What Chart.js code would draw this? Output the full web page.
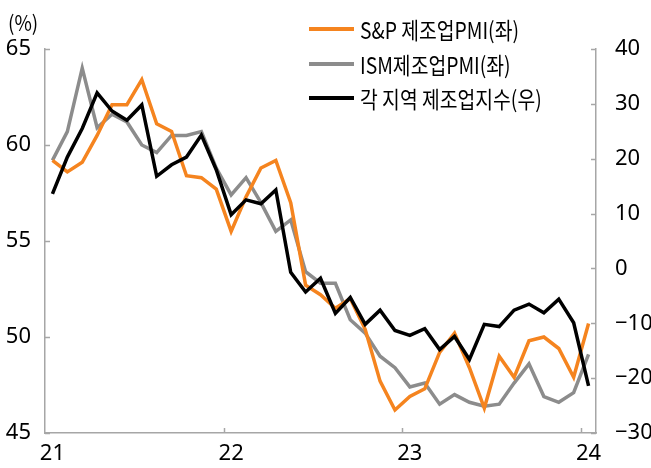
<!DOCTYPE html>
<html>
<head>
<meta charset="utf-8">
<script src="https://cdn.jsdelivr.net/npm/chart.js@4.4.1/dist/chart.umd.min.js"></script>
<style>
  html, body { margin: 0; padding: 0; background: #fff; }
  #wrap { position: relative; width: 651px; height: 468px; font-family: "Noto Sans CJK KR", "Noto Sans", sans-serif; }
  #unit { position: absolute; left: 8px; top: 7px; font-size: 21px; transform: scaleX(0.9); transform-origin: left center; }
  #legend { position: absolute; left: 309px; top: 12px; font-size: 23px; white-space: nowrap; }
  .row { display: flex; align-items: center; height: 34.5px; }
  .sw { width: 45px; height: 4px; margin-right: 6px; flex: none; }
  .tx { display: inline-block; transform: scaleX(0.84); transform-origin: left center; }
</style>
</head>
<body>
<div id="wrap">
  <canvas id="chart" width="651" height="468"></canvas>
  <div id="unit">(%)</div>
  <div id="legend"></div>
</div>
<script>
// 월별 (2021.01 ~ 2024.01)
const months = [
  '2021-01','2021-02','2021-03','2021-04','2021-05','2021-06','2021-07','2021-08','2021-09','2021-10','2021-11','2021-12',
  '2022-01','2022-02','2022-03','2022-04','2022-05','2022-06','2022-07','2022-08','2022-09','2022-10','2022-11','2022-12',
  '2023-01','2023-02','2023-03','2023-04','2023-05','2023-06','2023-07','2023-08','2023-09','2023-10','2023-11','2023-12',
  '2024-01'
];

const seriesNames = ['S&P 제조업PMI(좌)', 'ISM제조업PMI(좌)', '각 지역 제조업지수(우)'];
const seriesColors = ['#f5841f', '#8c8c8c', '#000000'];

// S&P 제조업 PMI (좌)
const spPmi = [
  59.2, 58.6, 59.1, 60.5, 62.1, 62.1, 63.4, 61.1, 60.7, 58.4, 58.3, 57.7,
  55.5, 57.3, 58.8, 59.2, 57.0, 52.7, 52.2, 51.5, 52.0, 50.4, 47.7, 46.2,
  46.9, 47.3, 49.2, 50.2, 48.4, 46.3, 49.0, 47.9, 49.8, 50.0, 49.4, 47.9,
  50.7
];

// ISM 제조업 PMI (좌)
const ismPmi = [
  59.2, 60.7, 64.0, 60.9, 61.6, 61.2, 60.0, 59.6, 60.5, 60.5, 60.7, 58.8,
  57.4, 58.3, 57.0, 55.5, 56.1, 53.4, 52.8, 52.8, 50.9, 50.2, 49.0, 48.4,
  47.4, 47.6, 46.5, 47.0, 46.6, 46.4, 46.5, 47.6, 48.6, 46.9, 46.6, 47.1,
  49.1
];

// 각 지역 연은 제조업지수 평균 (우)
const regionIdx = [
  13.6, 20.3, 25.5, 32.0, 28.7, 27.0, 29.8, 16.8, 18.9, 20.3, 24.3, 18.0,
  9.8, 12.5, 11.8, 14.3, -0.7, -4.3, -1.8, -8.2, -5.3, -10.2, -7.6, -11.3,
  -12.2, -11.0, -14.8, -12.4, -16.6, -10.2, -10.6, -7.6, -6.5, -8.1, -5.6, -9.9,
  -21.4
];

const leftTicks = { min: 45, max: 65, step: 5 };
const rightTicks = { min: -30, max: 40, step: 10 };

const axisColor = '#a6a6a6';
const fontFamily = '"Noto Sans", "Noto Sans CJK KR", sans-serif';

// 축 안쪽으로 들어가는 눈금
const innerTicks = {
  id: 'innerTicks',
  afterDraw(chart) {
    const { ctx, chartArea: a, scales } = chart;
    const len = 5;
    ctx.save();
    ctx.strokeStyle = axisColor;
    ctx.lineWidth = 1.5;
    ctx.beginPath();
    scales.y.ticks.forEach(t => {
      const py = Math.round(scales.y.getPixelForValue(t.value)) + 0.5;
      ctx.moveTo(a.left, py); ctx.lineTo(a.left + len, py);
    });
    scales.y1.ticks.forEach(t => {
      const py = Math.round(scales.y1.getPixelForValue(t.value)) + 0.5;
      ctx.moveTo(a.right, py); ctx.lineTo(a.right - len, py);
    });
    months.forEach((m, i) => {
      if (i > 0 && m.endsWith('-01')) {
        const px = Math.round(scales.x.getPixelForValue(i - 0.5)) + 0.5;
        ctx.moveTo(px, a.bottom); ctx.lineTo(px, a.bottom - len);
      }
    });
    ctx.stroke();
    ctx.restore();
  }
};

const data = [spPmi, ismPmi, regionIdx];
const axisIds = ['y', 'y', 'y1'];
const drawOrder = [1, 2, 0];

new Chart(document.getElementById('chart'), {
  type: 'line',
  data: {
    labels: months,
    datasets: data.map((d, i) => ({
      label: seriesNames[i],
      data: d,
      yAxisID: axisIds[i],
      borderColor: seriesColors[i],
      borderWidth: 3.5,
      pointRadius: 0,
      tension: 0,
      order: drawOrder[i]
    }))
  },
  options: {
    responsive: false,
    animation: false,
    events: [],
    layout: { padding: { top: 49, left: 0, right: 0, bottom: 0 } },
    plugins: { legend: { display: false }, tooltip: { enabled: false } },
    scales: {
      x: {
        type: 'category',
        offset: true,
        grid: { display: false, drawTicks: false },
        border: { color: axisColor, width: 1.5 },
        ticks: {
          autoSkip: false,
          maxRotation: 0,
          padding: 8,
          color: '#000',
          font: { family: fontFamily, size: 22 },
          callback: (v, i) => months[i].endsWith('-01') ? months[i].slice(2, 4) : ''
        },
        afterFit: s => { s.height = 35; }
      },
      y: {
        position: 'left',
        min: leftTicks.min,
        max: leftTicks.max,
        grid: { display: false, drawTicks: false },
        border: { color: axisColor, width: 1.5 },
        ticks: { stepSize: leftTicks.step, padding: 14, color: '#000', font: { family: fontFamily, size: 22 } },
        afterFit: s => { s.width = 45; }
      },
      y1: {
        position: 'right',
        min: rightTicks.min,
        max: rightTicks.max,
        grid: { display: false, drawTicks: false },
        border: { color: axisColor, width: 1.5 },
        ticks: {
          stepSize: rightTicks.step,
          padding: 19,
          color: '#000',
          font: { family: fontFamily, size: 22 },
          callback: v => v < 0 ? '\u2212' + Math.abs(v) : v
        },
        afterFit: s => { s.width = 55; }
      }
    }
  },
  plugins: [innerTicks]
});

// 범례
const legend = document.getElementById('legend');
seriesNames.forEach((name, i) => {
  const row = document.createElement('div');
  row.className = 'row';
  row.innerHTML = '<span class="sw" style="background:' + seriesColors[i] + '"></span><span class="tx"></span>';
  row.lastChild.textContent = name;
  legend.appendChild(row);
});
</script>
</body>
</html>
